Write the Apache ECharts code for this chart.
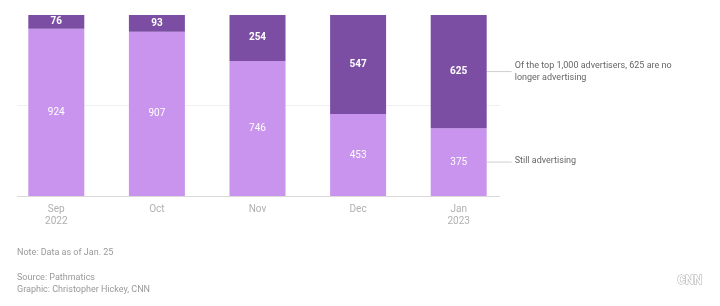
<!DOCTYPE html>
<html><head><meta charset="utf-8">
<script src="https://cdn.jsdelivr.net/npm/echarts@6/dist/echarts.min.js"></script>
<style>html,body{margin:0;padding:0;background:#fff}#c{width:720px;height:306px}</style>
</head><body><div id="c"></div>
<script>
var categories = ['Sep\n2022', 'Oct', 'Nov', 'Dec', 'Jan\n2023'];
var stillAdvertising = [924, 907, 746, 453, 375];
var noLonger = [76, 93, 254, 547, 625];
var yTicks = [0, 500, 1000];

var chart = echarts.init(document.getElementById('c'));
var font = 'Roboto, "Liberation Sans", sans-serif';
chart.setOption({
  animation: false,
  grid: {left: 6, right: 211, top: 15, bottom: 110},
  xAxis: {
    type: 'category', data: categories,
    axisLine: {show: false}, axisTick: {show: false},
    axisLabel: {color: '#b0b0b0', fontSize: 10, fontFamily: font, lineHeight: 12, margin: 7}
  },
  yAxis: {
    type: 'value', min: 0, max: 1000, interval: 500,
    axisLabel: {show: false}, axisLine: {show: false}, axisTick: {show: false},
    splitLine: {show: false}
  },
  series: [
    {name: 'Still advertising', type: 'bar', stack: 's', data: stillAdvertising, barWidth: 56,
     itemStyle: {color: '#c994ee'},
     label: {show: true, position: 'inside', color: '#fff', fontSize: 10, fontFamily: font}},
    {name: 'No longer advertising', type: 'bar', stack: 's', data: noLonger, barWidth: 56,
     itemStyle: {color: '#7b4ea4'},
     label: {show: true, position: 'inside', color: '#fff', fontSize: 10, fontFamily: font, fontWeight: 'bold'}}
  ]
});

var x0 = 17, x1 = 500;
var yBase = chart.convertToPixel({yAxisIndex: 0}, yTicks[0]);
var yMid = chart.convertToPixel({yAxisIndex: 0}, yTicks[1]);
var lastIdx = categories.length - 1;
var xLast = chart.convertToPixel({xAxisIndex: 0}, lastIdx);
var yDarkMid = chart.convertToPixel({yAxisIndex: 0}, stillAdvertising[lastIdx] + noLonger[lastIdx] / 2);
var yLightMid = chart.convertToPixel({yAxisIndex: 0}, stillAdvertising[lastIdx] / 2);
var barRight = xLast + 28;
var gray = '#cfcfcf';
chart.setOption({
  graphic: [
    {type: 'line', z: -1, shape: {x1: x0, y1: yMid, x2: x1, y2: yMid}, style: {stroke: '#f0f0f0', lineWidth: 1}},
    {type: 'line', z: 10, shape: {x1: x0, y1: yBase + 0.5, x2: x1, y2: yBase + 0.5}, style: {stroke: '#d9d9d9', lineWidth: 1}},
    {type: 'line', shape: {x1: barRight, y1: yDarkMid, x2: barRight + 25, y2: yDarkMid}, style: {stroke: gray, lineWidth: 1}},
    {type: 'line', shape: {x1: barRight, y1: yLightMid, x2: barRight + 25, y2: yLightMid}, style: {stroke: gray, lineWidth: 1}},
    {type: 'text', left: barRight + 28, top: yDarkMid - 12, style: {text: 'Of the top 1,000 advertisers, 625 are no\nlonger advertising', fill: '#666', font: '9px ' + font, lineHeight: 12}},
    {type: 'text', left: barRight + 28, top: yLightMid - 6, style: {text: 'Still advertising', fill: '#666', font: '9px ' + font}},
    {type: 'text', left: 17, top: 248, style: {text: 'Note: Data as of Jan. 25', fill: '#999', font: '9px ' + font}},
    {type: 'text', left: 17, top: 272, style: {text: 'Source: Pathmatics\nGraphic: Christopher Hickey, CNN', fill: '#999', font: '9px ' + font, lineHeight: 12}},
    {type: 'text', left: 677, top: 274, style: {text: 'CNN', fill: '#fff', stroke: '#aaa', lineWidth: 1, font: 'bold 12px ' + font}}
  ]
});
</script></body></html>
